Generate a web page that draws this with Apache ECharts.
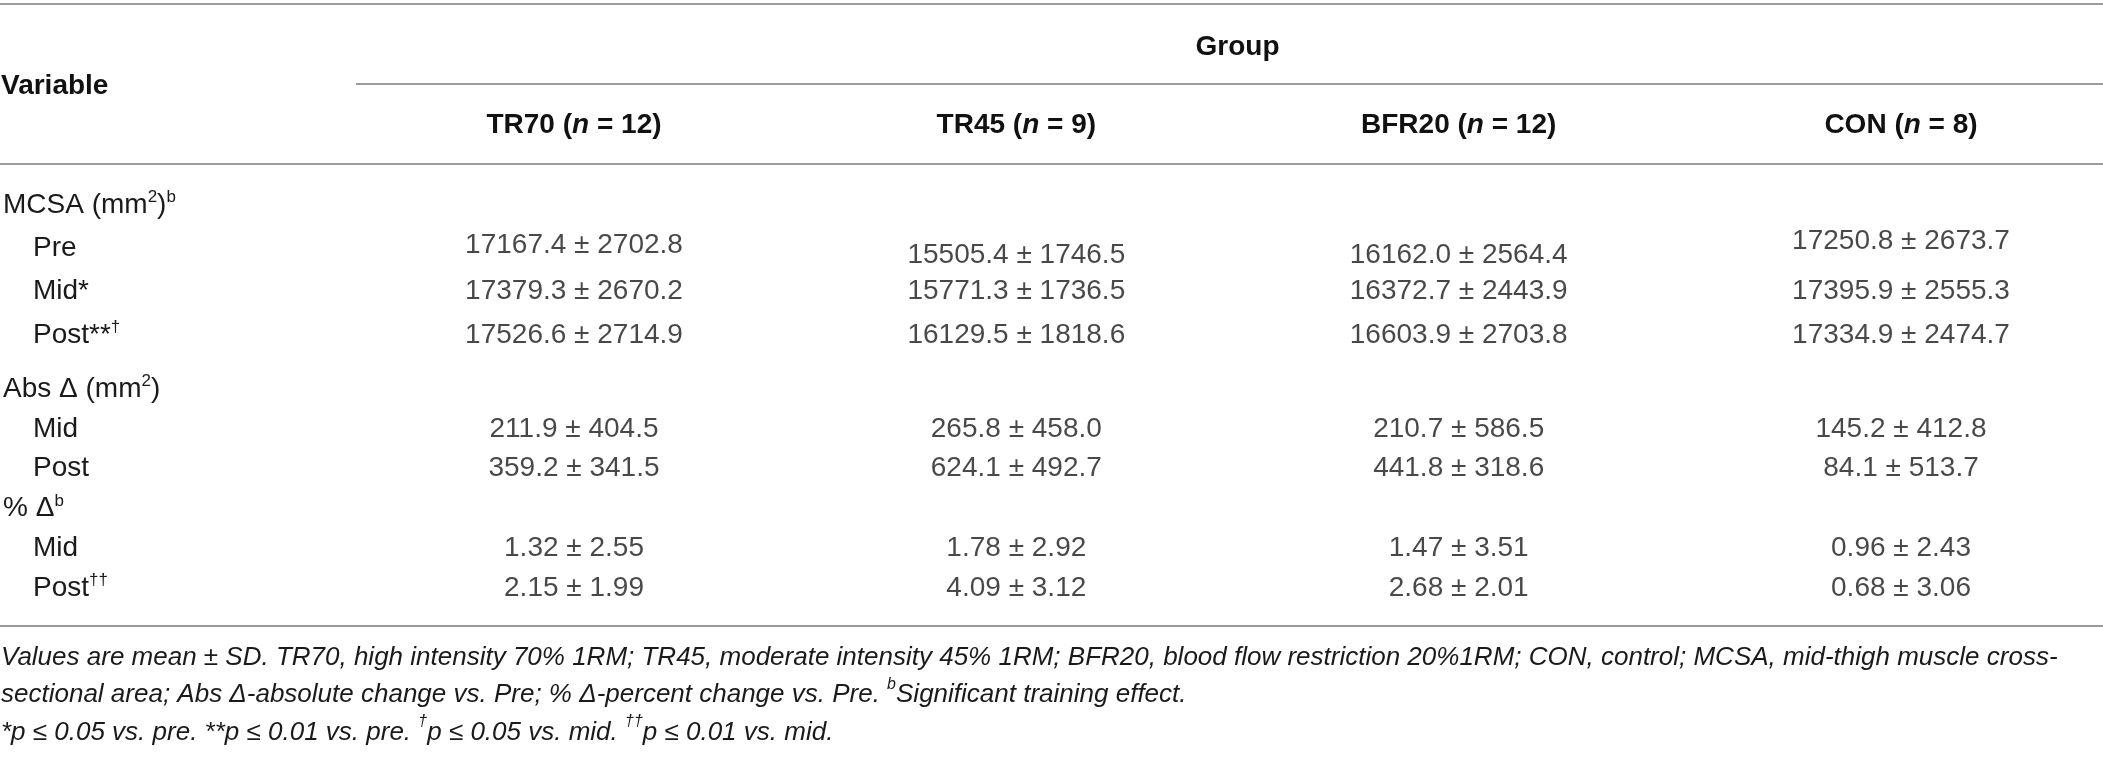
<!DOCTYPE html>
<html>
<head>
<meta charset="utf-8">
<script src="https://cdn.jsdelivr.net/npm/echarts@6/dist/echarts.min.js"></script>
<style>
html,body{margin:0;padding:0;background:#fff;}
#c{width:2103px;height:758px;}
</style>
</head>
<body>
<div id="c"></div>
<script>
// ---- data ----
const groups = ['TR70', 'TR45', 'BFR20', 'CON'];
const groupN = [12, 9, 12, 8];

const rowsA = ['MCSA (mm²)ᵇ', 'Pre', 'Mid*', 'Post**†'];
const rowsB = ['Abs Δ (mm²)', 'Mid', 'Post', '% Δᵇ', 'Mid', 'Post††'];

const preMean  = [17167.4, 15505.4, 16162.0, 17250.8];
const preSD    = [2702.8, 1746.5, 2564.4, 2673.7];
const midMean  = [17379.3, 15771.3, 16372.7, 17395.9];
const midSD    = [2670.2, 1736.5, 2443.9, 2555.3];
const postMean = [17526.6, 16129.5, 16603.9, 17334.9];
const postSD   = [2714.9, 1818.6, 2703.8, 2474.7];

const absMidMean  = [211.9, 265.8, 210.7, 145.2];
const absMidSD    = [404.5, 458.0, 586.5, 412.8];
const absPostMean = [359.2, 624.1, 441.8, 84.1];
const absPostSD   = [341.5, 492.7, 318.6, 513.7];

const pctMidMean  = [1.32, 1.78, 1.47, 0.96];
const pctMidSD    = [2.55, 2.92, 3.51, 2.43];
const pctPostMean = [2.15, 4.09, 2.68, 0.68];
const pctPostSD   = [1.99, 3.12, 2.01, 3.06];

const footnotes = [
  'Values are mean ± SD. TR70, high intensity 70% 1RM; TR45, moderate intensity 45% 1RM; BFR20, blood flow restriction 20%1RM; CON, control; MCSA, mid-thigh muscle cross-',
  'sectional area; Abs Δ-absolute change vs. Pre; % Δ-percent change vs. Pre. ᵇSignificant training effect.',
  '*p ≤ 0.05 vs. pre. **p ≤ 0.01 vs. pre. †p ≤ 0.05 vs. mid. ††p ≤ 0.01 vs. mid.'
];

// ---- styling ----
const FONT = '"Liberation Sans", Arial, Helvetica, sans-serif';
const INK = '#1a1a1a';
// small vertical misalignment of the "Pre" cells in the source typesetting (px)
const preRowNudge = [-3, 7, 7, -7];

const supMap = {'²': '2', 'ᵇ': 'b', '†': '†'};
function supify(str, base, sup) {
  let out = '', buf = '', sbuf = '';
  for (const ch of str) {
    if (supMap[ch]) {
      if (buf) { out += '{' + base + '|' + buf + '}'; buf = ''; }
      sbuf += supMap[ch];
    } else {
      if (sbuf) { out += '{' + sup + '|' + sbuf + '}'; sbuf = ''; }
      buf += ch;
    }
  }
  if (buf) out += '{' + base + '|' + buf + '}';
  if (sbuf) out += '{' + sup + '|' + sbuf + '}';
  return out;
}
function cell(m, s, d) { return m.toFixed(d) + ' ± ' + s.toFixed(d); }

function buildSeries(rowDefs, gridIdx, nudgeRow, nudge) {
  return groups.map((g, gi) => ({
    type: 'scatter',
    name: g,
    xAxisIndex: gridIdx,
    yAxisIndex: gridIdx,
    symbolSize: 0,
    silent: true,
    data: rowDefs.map(([ri, means, sds, dec]) => {
      const item = {value: [gi, ri, cell(means[gi], sds[gi], dec)]};
      if (nudge && ri === nudgeRow) item.label = {offset: [0, nudge[gi]]};
      return item;
    }),
    label: {
      show: true,
      position: 'inside',
      formatter: p => p.value[2],
      fontFamily: FONT,
      fontSize: 28,
      fontWeight: 'normal',
      color: INK
    }
  }));
}

const richBase = {
  h: {fontFamily: FONT, fontSize: 28, color: INK, lineHeight: 32},
  s: {fontFamily: FONT, fontSize: 28, color: INK, lineHeight: 32},
  sup: {fontFamily: FONT, fontSize: 17, color: INK, lineHeight: 17, verticalAlign: 'top'},
  ind: {width: 30, lineHeight: 32}
};
function rowLabel(label, idx, headIdx) {
  const isHead = headIdx.indexOf(idx) >= 0;
  return (isHead ? '' : '{ind| }') + supify(label, isHead ? 'h' : 's', 'sup');
}

const chart = echarts.init(document.getElementById('c'), null, {renderer: 'canvas'});

const gridX = {left: 573, right: 202};
const hiddenAxisBits = {
  axisLine: {show: false},
  axisTick: {show: false},
  splitLine: {show: false}
};
const ruleStyle = {stroke: '#9a9a9a', lineWidth: 2};

const option = {
  backgroundColor: '#ffffff',
  animation: false,
  title: [
    {
      text: 'Variable',
      left: 1, top: 70, padding: 0,
      textStyle: {fontFamily: FONT, fontSize: 28, fontWeight: 'bold', color: '#111', lineHeight: 32}
    },
    {
      text: footnotes.map(t => supify(t, 'f', 'fs')).join('\n'),
      left: 1, top: 639, padding: 0,
      textStyle: {
        fontFamily: FONT, fontSize: 26, fontStyle: 'italic', fontWeight: 'normal', color: INK, lineHeight: 37.5,
        rich: {
          f: {fontFamily: FONT, fontSize: 26, fontStyle: 'italic', fontWeight: 'normal', color: INK, lineHeight: 37.5},
          fs: {fontFamily: FONT, fontSize: 16, fontStyle: 'italic', fontWeight: 'normal', color: INK, lineHeight: 26, verticalAlign: 'top'}
        }
      }
    }
  ],
  grid: [
    Object.assign({top: 205, bottom: 758 - 335}, gridX),
    Object.assign({top: 389, bottom: 758 - 588}, gridX)
  ],
  xAxis: [
    Object.assign({
      gridIndex: 0, type: 'category', data: groups, boundaryGap: false, position: 'top',
      name: 'Group', nameLocation: 'middle', nameGap: 158,
      nameTextStyle: {fontFamily: FONT, fontSize: 28, fontWeight: 'bold', color: '#111', verticalAlign: 'middle'},
      axisLabel: {
        show: true, interval: 0, margin: 80, verticalAlign: 'middle',
        formatter: (v, i) => '{b|' + v + ' (}{bi|n}{b| = ' + groupN[i] + ')}',
        rich: {
          b: {fontFamily: FONT, fontSize: 28, fontWeight: 'bold', color: '#111', lineHeight: 32},
          bi: {fontFamily: FONT, fontSize: 28, fontWeight: 'bold', fontStyle: 'italic', color: '#111', lineHeight: 32}
        }
      }
    }, hiddenAxisBits),
    Object.assign({
      gridIndex: 1, type: 'category', data: groups, boundaryGap: false, axisLabel: {show: false}
    }, hiddenAxisBits)
  ],
  yAxis: [
    Object.assign({
      gridIndex: 0, type: 'category', data: rowsA.map((r, i) => 'a' + i), inverse: true, boundaryGap: false,
      axisLabel: {
        show: true, interval: 0, align: 'left', margin: 571,
        formatter: (v, i) => rowLabel(rowsA[i], i, [0]),
        rich: richBase
      }
    }, hiddenAxisBits),
    Object.assign({
      gridIndex: 1, type: 'category', data: rowsB.map((r, i) => 'b' + i), inverse: true, boundaryGap: false,
      axisLabel: {
        show: true, interval: 0, align: 'left', margin: 571,
        formatter: (v, i) => rowLabel(rowsB[i], i, [0, 3]),
        rich: richBase
      }
    }, hiddenAxisBits)
  ],
  graphic: [
    {type: 'line', shape: {x1: 0, y1: 4, x2: 2103, y2: 4}, style: ruleStyle},
    {type: 'line', shape: {x1: 356, y1: 84, x2: 2103, y2: 84}, style: ruleStyle},
    {type: 'line', shape: {x1: 0, y1: 164, x2: 2103, y2: 164}, style: ruleStyle},
    {type: 'line', shape: {x1: 0, y1: 626, x2: 2103, y2: 626}, style: ruleStyle}
  ],
  series: [].concat(
    buildSeries([[1, preMean, preSD, 1], [2, midMean, midSD, 1], [3, postMean, postSD, 1]], 0, 1, preRowNudge),
    buildSeries([[1, absMidMean, absMidSD, 1], [2, absPostMean, absPostSD, 1],
                 [4, pctMidMean, pctMidSD, 2], [5, pctPostMean, pctPostSD, 2]], 1)
  )
};
chart.setOption(option);
</script>
</body>
</html>
